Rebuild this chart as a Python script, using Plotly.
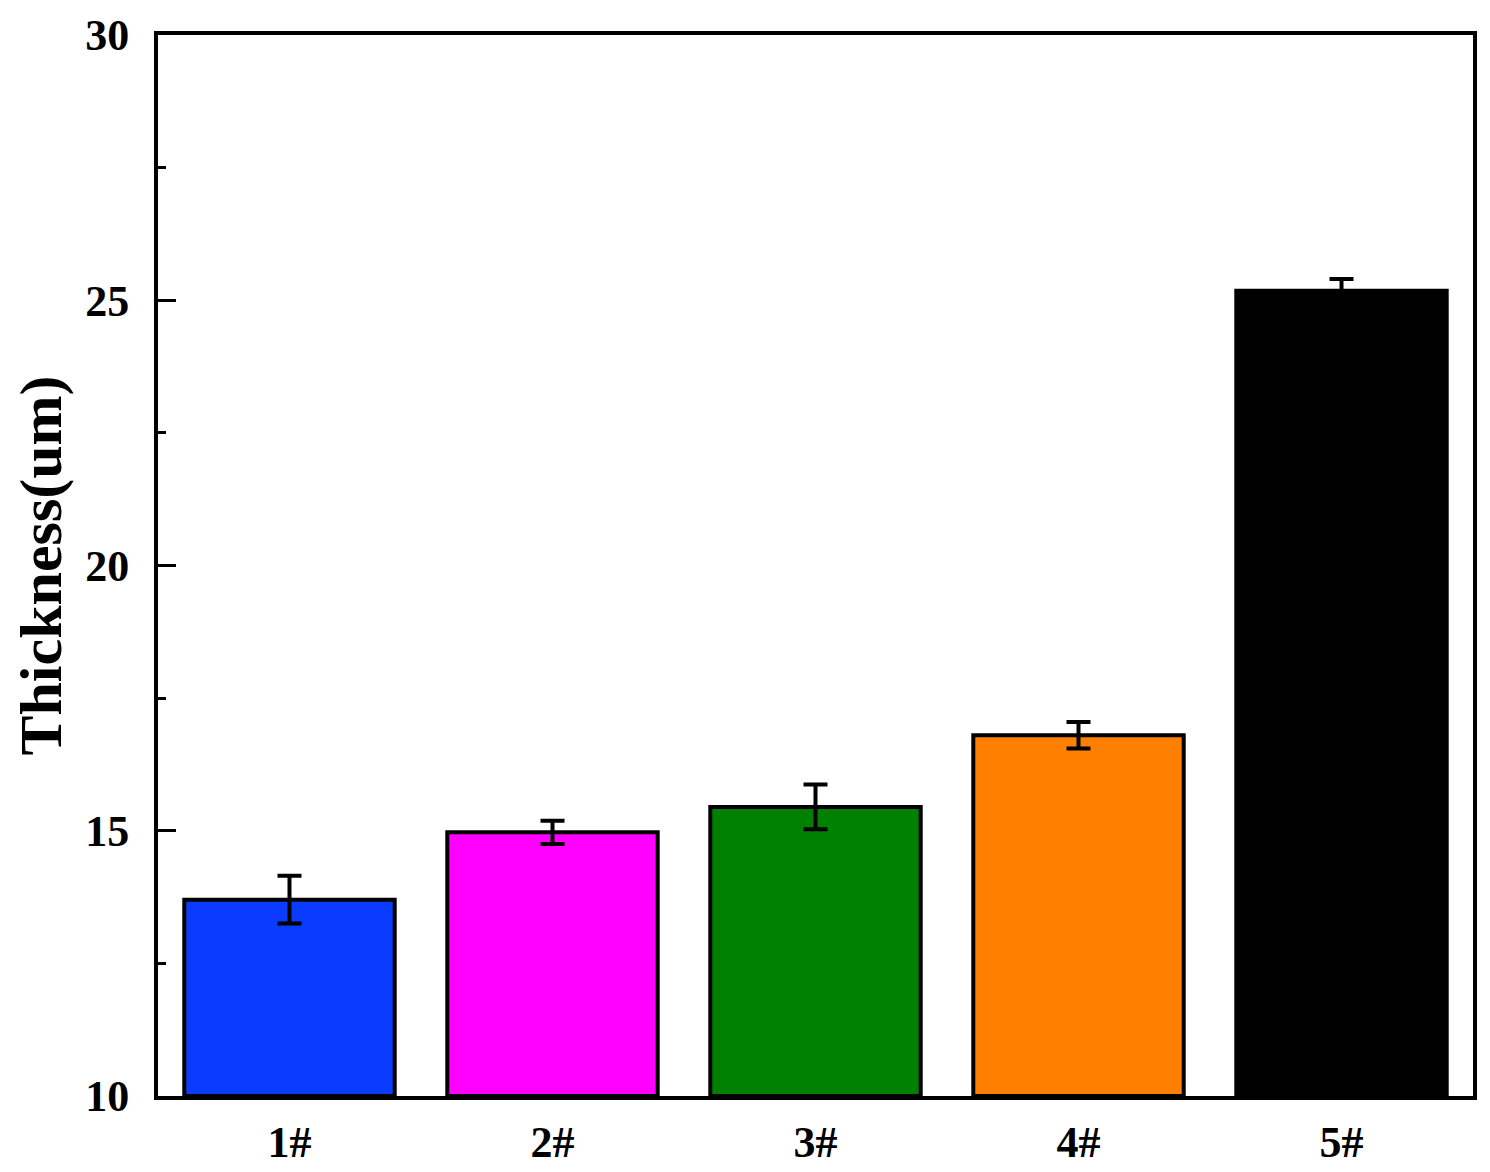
import plotly.graph_objects as go

categories = ["1#", "2#", "3#", "4#", "5#"]
thickness = [13.70, 14.97, 15.45, 16.80, 25.18]
errors = [0.45, 0.22, 0.42, 0.25, 0.22]
colors = ["#0A3CFF", "#FF00FF", "#008000", "#FF8000", "#000000"]
y_ticks = [10, 15, 20, 25, 30]

font_family = "Liberation Serif, Times New Roman, serif"

fig = go.Figure()
fig.add_trace(go.Bar(
    x=categories,
    y=[v - 10 for v in thickness],
    base=10,
    width=0.8,
    marker=dict(color=colors, line=dict(color="black", width=4)),
    error_y=dict(type="data", array=errors, visible=True, color="black",
                 thickness=4, width=12),
    showlegend=False,
))

fig.update_layout(
    width=1480, height=1160,
    margin=dict(l=150, r=15, t=27, b=72),
    paper_bgcolor="white", plot_bgcolor="white",
    font=dict(family=font_family, color="black"),
    bargap=0.2,
)
fig.update_xaxes(
    range=[-0.5, 4.5],
    automargin=False,
    showline=True, linewidth=4, linecolor="black", mirror=True,
    ticks="", showgrid=False,
    ticklabelstandoff=4,
    tickfont=dict(size=44, family=font_family, weight="bold"),
)
fig.update_yaxes(
    range=[10, 30],
    automargin=False,
    tickvals=y_ticks,
    ticktext=[str(v) for v in y_ticks],
    showline=True, linewidth=4, linecolor="black", mirror=True,
    ticks="inside", ticklen=18, tickwidth=3, tickcolor="black",
    minor=dict(ticks="inside", ticklen=8, tickwidth=3, tickcolor="black", dtick=2.5, showgrid=False),
    showgrid=False, zeroline=False,
    ticklabelstandoff=16,
    tickfont=dict(size=44, family=font_family, weight="bold"),
    title=dict(text="Thickness(um)", font=dict(size=60, family=font_family, weight="bold"), standoff=14),
)

fig.write_html("out.html")
